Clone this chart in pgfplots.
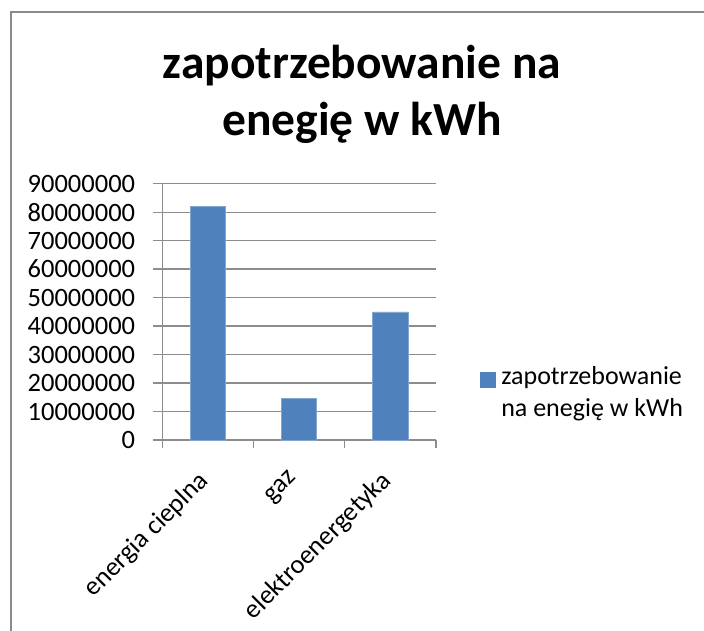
\documentclass[border=0pt]{standalone}
\usepackage{fontspec}
\setmainfont{Carlito}
\usepackage{pgfplots}
\pgfplotsset{compat=1.18}
\definecolor{barblue}{HTML}{4F81BD}
\definecolor{gridgray}{HTML}{8C8C8C}
\definecolor{framegray}{HTML}{8A8A8A}
\begin{document}
\begin{tikzpicture}
\useasboundingbox[fill=white] (0,0) rectangle (704bp,-631bp);
\draw[framegray, line width=2bp] (11.2bp,-631bp) -- (11.2bp,-12bp) -- (704bp,-12bp);
\node[anchor=base, font=\fontsize{47.5bp}{57bp}\selectfont\bfseries, inner sep=0pt] at (362bp,-78.3bp) {zapotrzebowanie na};
\node[anchor=base, font=\fontsize{47.5bp}{57bp}\selectfont\bfseries, inner sep=0pt] at (362bp,-135.8bp) {enegię w kWh};
\begin{axis}[
  at={(162.3bp,-440bp)}, anchor=origin,
  scale only axis, width=273.7bp, height=256.3bp,
  xmin=0, xmax=3, ymin=0, ymax=90000000,
  ybar, bar width=35.3bp,
  axis x line=bottom, axis y line=left,
  axis line style={gridgray, line width=1.3bp, -},
  scaled y ticks=false,
  xtick={0.5,1.5,2.5},
  xticklabels={energia cieplna, gaz, elektroenergetyka},
  minor xtick={0,1,2,3},
  ytick={0,10000000,20000000,30000000,40000000,50000000,60000000,70000000,80000000,90000000},
  yticklabels={0,10000000,20000000,30000000,40000000,50000000,60000000,70000000,80000000,90000000},
  tick align=outside,
  major x tick style={draw=none},
  minor tick length=8bp,
  major tick length=9bp,
  tick style={gridgray, line width=1.3bp},
  ymajorgrids, grid style={gridgray, line width=1.3bp},
  ticklabel style={font=\fontsize{26.5bp}{32bp}\selectfont, inner sep=0pt},
  yticklabel style={anchor=east, xshift=-18bp},
  xticklabel style={rotate=45, anchor=north east, xshift=-22bp, yshift=-6bp},
  legend style={at={(1.159,0.205)}, anchor=south west, draw=none, fill=none, inner sep=0pt,
    nodes={inner sep=0pt, anchor=base west}, font=\fontsize{26bp}{32bp}\selectfont},
  legend image code/.code={\fill[barblue] (0bp,-2bp) rectangle (15.7bp,13bp); \path (21bp,0bp);},
]
\addplot[fill=barblue, draw=barblue!70!white, line width=0.6bp] coordinates {(0.5,82000000) (1.5,14700000) (2.5,45000000)};
\addlegendentry{\begin{tabular}[t]{@{}l@{}}zapotrzebowanie\\na enegię w kWh\end{tabular}}
\end{axis}
\end{tikzpicture}
\end{document}
